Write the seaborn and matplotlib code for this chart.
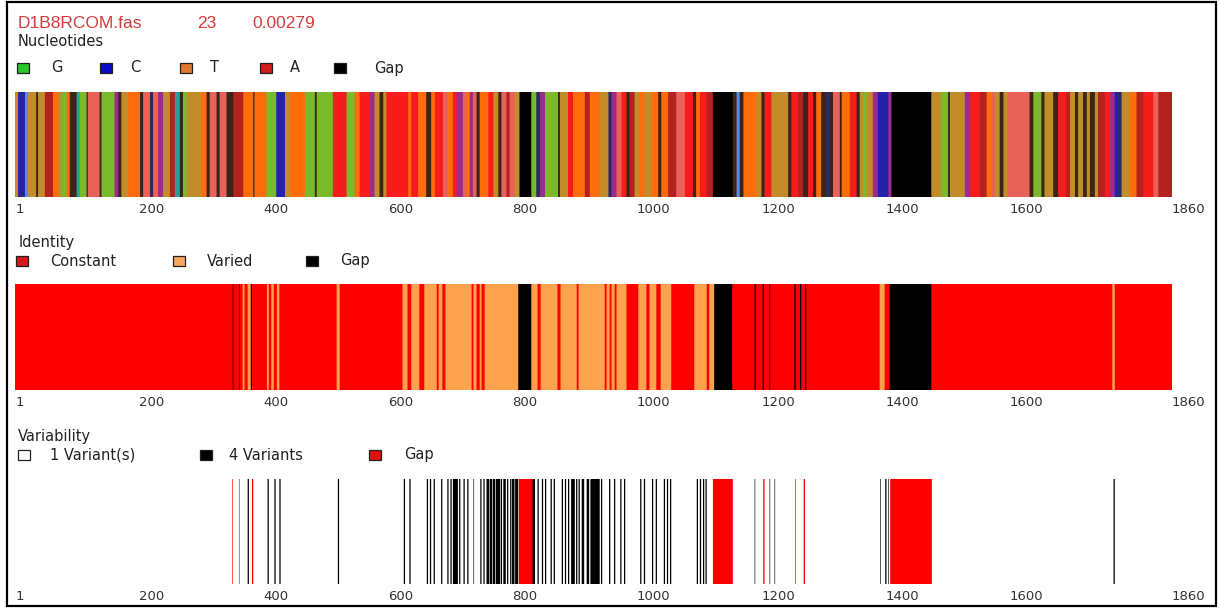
import numpy as np
import pandas as pd
import matplotlib
matplotlib.use("Agg")
import matplotlib.pyplot as plt
from matplotlib.patches import Rectangle
import seaborn as sns

# ---------------- data ----------------
SEQ_LEN = 1860
TITLE_PARTS = ["D1B8RCOM.fas", "23", "0.00279"]
TICK_VALUES = [1, 200, 400, 600, 800, 1000, 1200, 1400, 1600, 1860]
TICK_LABELS = [str(v) for v in TICK_VALUES]

# Nucleotide track: run start positions and the (IUPAC) state of each run
nuc_start = [1, 6, 17, 22, 35, 38, 49, 62, 70, 76,
             84, 89, 100, 105, 116, 118, 137, 140, 161, 167,
             172, 183, 202, 207, 218, 223, 231, 239, 250, 258,
             266, 271, 277, 301, 309, 314, 325, 330, 341, 352,
             368, 384, 386, 405, 421, 435, 443, 467, 483, 486,
             512, 534, 547, 555, 571, 579, 587, 593, 598, 633,
             638, 649, 662, 670, 676, 689, 697, 705, 711, 721,
             727, 732, 737, 743, 748, 762, 770, 778, 783, 791,
             796, 804, 812, 831, 839, 845, 853, 874, 877, 890,
             898, 917, 925, 941, 955, 960, 968, 976, 984, 989,
             997, 1005, 1013, 1024, 1035, 1040, 1051, 1064, 1078, 1091,
             1096, 1102, 1113, 1123, 1155, 1161, 1166, 1172, 1193, 1201,
             1206, 1217, 1244, 1249, 1260, 1268, 1276, 1284, 1289, 1297,
             1305, 1311, 1316, 1327, 1330, 1343, 1354, 1359, 1364, 1370,
             1380, 1388, 1405, 1410, 1474, 1490, 1501, 1504, 1528, 1536,
             1552, 1563, 1571, 1576, 1584, 1590, 1597, 1632, 1638, 1651,
             1656, 1670, 1678, 1691, 1697, 1705, 1710, 1718, 1724, 1729,
             1737, 1742, 1753, 1761, 1769, 1774, 1780, 1793, 1804, 1815,
             1831, 1839]
nuc_code = list("KCYKNKRTKG" "TNSGNWNGMN" "KTNWVWMKRS" "NGKTNWNWNR"
                "TNTGCKTGNG" "AGTAMKNKAT" "ATNTAWTAMW" "TMWNTAKNWR"
                "WK-GVMGNKA" "TRTKVMWANR" "KTKTNTRWAN" "TAR-NYNTKN"
                "AKNARNANTN" "VNWNTANKGK" "MCM-KGNKMA" "RTWKNKWNGN"
                "KNARKNKNKN" "KRAMCVKTRA" "WR")
NUC_LEGEND = ["G", "C", "T", "A", "Gap"]

# Identity track: C = constant, V = varied, - = gap
id_start = [1, 351, 352, 361, 362, 367, 370, 375, 380, 382,
            406, 409, 413, 417, 422, 426, 518, 523, 624, 632,
            638, 651, 659, 679, 682, 688, 693, 735, 738, 743,
            748, 751, 756, 810, 831, 841, 846, 873, 878, 904,
            907, 949, 952, 957, 960, 965, 968, 984, 1003, 1016,
            1021, 1032, 1039, 1056, 1093, 1113, 1117, 1125, 1154, 1190,
            1192, 1203, 1205, 1214, 1215, 1254, 1256, 1263, 1265, 1271,
            1273, 1391, 1399, 1407, 1474, 1765, 1769]
id_code = list("C-C-CVCV-C" "VCVCVCVCVC" "VCVCVCVCVC" "VCV-VCVCVC"
               "VCVCVCVCVC" "VCVCVCV-C-" "C-C-C-C-C-" "CVC-CVC")
ID_LEGEND = ["Constant", "Varied", "Gap"]

# Variability track: columns with 4 variants, and gap columns (rest: 1 variant)
var4_start = [375, 407, 418, 426, 520, 626, 635, 663, 668, 674,
              686, 696, 701, 705, 715, 722, 728, 738, 749, 754,
              759, 764, 769, 774, 782, 786, 792, 797, 800, 805,
              833, 841, 848, 853, 862, 867, 880, 885, 890, 895,
              903, 907, 912, 920, 926, 943, 956, 964, 974, 980,
              1006, 1012, 1025, 1031, 1044, 1049, 1054, 1097, 1102, 1107,
              1111, 1190, 1214, 1222, 1392, 1400, 1405, 1767]
var4_end = [376, 408, 419, 427, 521, 627, 636, 664, 669, 675,
            687, 697, 702, 712, 716, 723, 729, 738, 750, 755,
            762, 767, 772, 780, 783, 789, 793, 798, 803, 809,
            836, 842, 849, 854, 863, 868, 881, 886, 891, 900,
            904, 908, 915, 923, 940, 944, 957, 965, 975, 981,
            1007, 1013, 1026, 1032, 1045, 1050, 1055, 1098, 1103, 1108,
            1112, 1190, 1214, 1222, 1392, 1401, 1405, 1768]
vargap_start = [350, 361, 382, 811, 1123, 1204, 1255, 1269, 1408]
vargap_end = [350, 361, 383, 832, 1154, 1205, 1255, 1270, 1474]
VAR_LEGEND = ["1 Variant(s)", "4 Variants", "Gap"]

# ---------------- styles ----------------
NUC_COLORS = {"G": "#7cb82c", "C": "#2323a8", "T": "#ff6c0c", "A": "#f71c1c",
              "-": "#000000", "K": "#c28c2a", "W": "#e9625a", "M": "#9b2b8c",
              "R": "#b3221f", "Y": "#5b8be0", "S": "#2a9f96", "N": "#3b2519",
              "V": "#2b2b62"}
NUC_LEGEND_COLORS = ["#26c826", "#0a0ac8", "#e07830", "#d01c1c", "#000000"]
ID_COLORS = {"C": "#ff0000", "V": "#ffa24e", "-": "#000000"}
ID_LEGEND_COLORS = ["#d81818", "#f8a862", "#000000"]
VAR_COLORS = {"1": "#ffffff", "4": "#000000", "-": "#ff0000"}
VAR_LEGEND_COLORS = ["#ffffff", "#000000", "#e01010"]

sns.set_theme(style="white")
plt.rcParams["font.family"] = ["DejaVu Sans"]

W, H = 1220, 609
fig = plt.figure(figsize=(W / 100, H / 100), dpi=100)
fig.patch.set_facecolor("white")


def fx(x):
    return x / W


def fy(y):
    return 1 - y / H


def add_panel(top, bottom):
    return fig.add_axes([fx(15), fy(bottom), 1157 / W, (bottom - top) / H])


def draw_track(ax, starts, codes, colors):
    starts = np.asarray(starts, dtype=float)
    ends = np.r_[starts[1:], SEQ_LEN + 1]
    df = pd.DataFrame({"position": (starts + ends - 1) / 2, "state": codes})
    edges = np.r_[starts - 0.5, SEQ_LEN + 0.5]
    sns.histplot(data=df, x="position", bins=edges, stat="count",
                 element="bars", fill=True, linewidth=0, alpha=1,
                 legend=False, ax=ax)
    bars = list(ax.patches)
    n = len(bars)
    for i, (bar, code) in enumerate(zip(bars, codes)):
        bar.set_facecolor(colors[code])
        bar.set_edgecolor("none")
        bar.set_snap(False)
        if i < n - 1:
            # overlap the next stripe slightly so neighbours blend without seams
            bar.set_width(bar.get_width() + 2.5)
    ax.set_xlim(0.5, SEQ_LEN + 0.5)
    ax.set_ylim(0, 1)
    ax.set_xticks(TICK_VALUES)
    ax.set_xticklabels(TICK_LABELS, ha="left")
    ax.tick_params(axis="x", length=0, pad=4, labelsize=9.5, labelcolor="#333333")
    ax.set_yticks([])
    ax.set_xlabel("")
    ax.set_ylabel("")
    sns.despine(ax=ax, left=True, bottom=True)
    ax.set_facecolor("none")


def legend_row(yc, sq_x, txt_x, labels, colors):
    for xs, xt, lab, col in zip(sq_x, txt_x, labels, colors):
        fig.add_artist(Rectangle((fx(xs), fy(yc + 5)), 12 / W, 10 / H,
                                 transform=fig.transFigure, facecolor=col,
                                 edgecolor="#202020", linewidth=0.9))
        fig.text(fx(xt), fy(yc), lab, va="center", ha="left",
                 fontsize=10.5, color="#222222")


# title
for part, x in zip(TITLE_PARTS, [18, 197, 252]):
    fig.text(fx(x), fy(23), part, va="center", ha="left", fontsize=12.5,
             color="#d43c3c", family=["Liberation Sans", "DejaVu Sans"])

# Nucleotides
fig.text(fx(18), fy(42), "Nucleotides", va="center", ha="left",
         fontsize=10.5, color="#222222")
legend_row(68, [17, 100, 180, 260, 334], [51, 130, 210, 290, 374],
           NUC_LEGEND, NUC_LEGEND_COLORS)
ax1 = add_panel(92, 197)
draw_track(ax1, nuc_start, nuc_code, NUC_COLORS)

# Identity
fig.text(fx(19), fy(242), "Identity", va="center", ha="left",
         fontsize=10.5, color="#222222")
legend_row(261, [16, 173, 306], [50, 207, 340], ID_LEGEND, ID_LEGEND_COLORS)
ax2 = add_panel(284, 390)
draw_track(ax2, id_start, id_code, ID_COLORS)

# Variability
state = np.array(["1"] * SEQ_LEN)
for s, e in zip(var4_start, var4_end):
    state[s - 1:e] = "4"
for s, e in zip(vargap_start, vargap_end):
    state[s - 1:e] = "-"
change = np.r_[True, state[1:] != state[:-1]]
var_start = np.flatnonzero(change) + 1
var_code = list(state[change])

fig.text(fx(18), fy(436), "Variability", va="center", ha="left",
         fontsize=10.5, color="#222222")
legend_row(455, [18, 200, 369], [50, 229, 404], VAR_LEGEND, VAR_LEGEND_COLORS)
ax3 = add_panel(479, 584)
draw_track(ax3, var_start, var_code, VAR_COLORS)

# outer frame
fig.add_artist(Rectangle((fx(7), fy(606)), 1209 / W, 604 / H,
                         transform=fig.transFigure, fill=False,
                         edgecolor="black", linewidth=1.6))

assert len(nuc_start) == len(nuc_code)
assert len(id_start) == len(id_code)
fig.savefig("out.png", dpi=100, facecolor="white")
